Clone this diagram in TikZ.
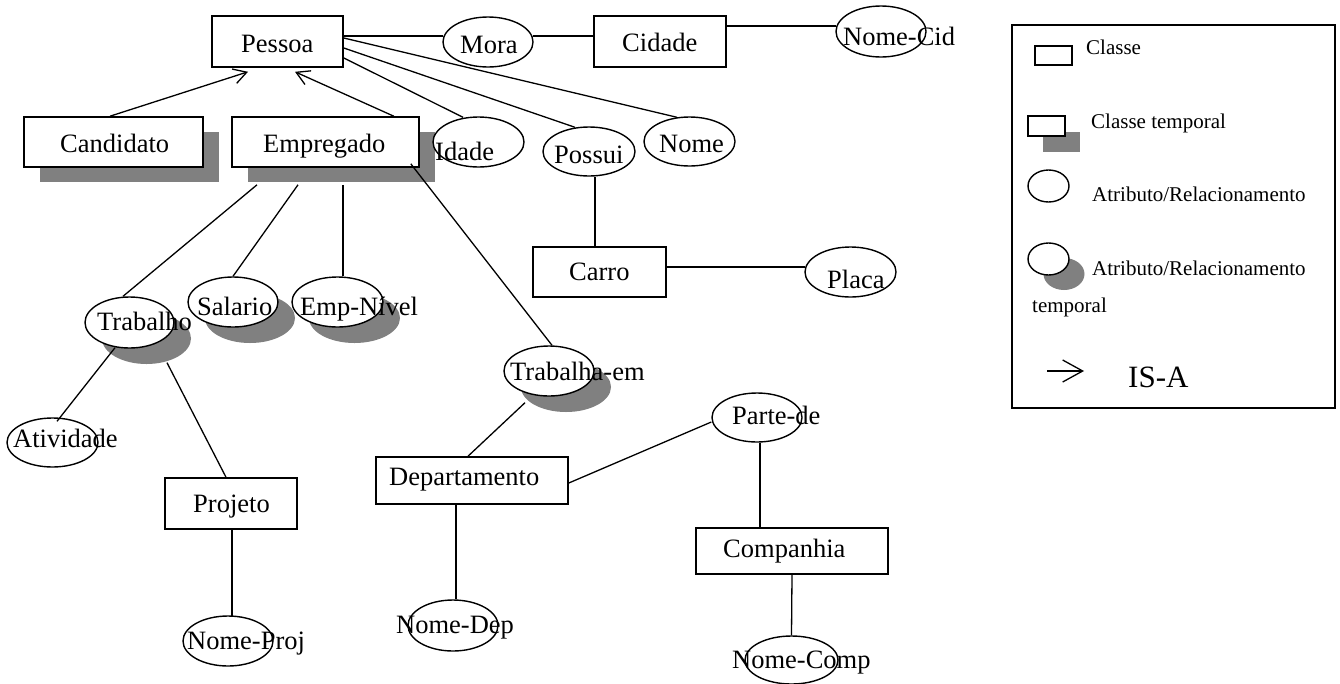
\documentclass[tikz,border=0pt]{standalone}
\usepackage{fontspec}
\setmainfont{Liberation Serif}
\usetikzlibrary{shapes.geometric,shadows,arrows.meta}
\definecolor{shade}{RGB}{128,128,128}
\begin{document}
\begin{tikzpicture}[x=1pt,y=-1pt,
  cls/.style={draw, line width=1.6pt, fill=white, rectangle, inner sep=0pt},
  attr/.style={draw, line width=1.4pt, fill=white, ellipse, inner sep=0pt},
  tcls/.style={cls, general shadow={fill=shade, draw=none, shadow xshift=16pt, shadow yshift=-15pt}},
  tattr/.style={attr, general shadow={fill=shade, draw=none, shadow xshift=17pt, shadow yshift=-16pt}},
  lbl/.style={anchor=base west, inner sep=0pt, font=\fontsize{26.5}{30}\selectfont},
  lgl/.style={anchor=base west, inner sep=0pt, font=\fontsize{21}{25}\selectfont},
  link/.style={line width=1.3pt},
  isa/.style={line width=1.3pt, -{Straight Barb[length=13pt,width=15pt]}}]
\useasboundingbox (0,0) rectangle (1340,683);

% ---------- classes ----------
\node[cls, minimum width=131pt, minimum height=51pt] (pessoa) at (277.5,41.5) {};
\node[cls, minimum width=132pt, minimum height=51pt] (cidade) at (660,41.5) {};
\node[tcls, minimum width=179pt, minimum height=50pt] (cand) at (113.5,142) {};
\node[tcls, minimum width=187pt, minimum height=50pt] (empr) at (325.5,142) {};
\node[cls, minimum width=133pt, minimum height=50pt] (carro) at (599.5,272) {};
\node[cls, minimum width=132pt, minimum height=51pt] (projeto) at (231,503.5) {};
\node[cls, minimum width=192pt, minimum height=47pt] (depto) at (472,480.5) {};
\node[cls, minimum width=192pt, minimum height=46pt] (comp) at (792,551) {};

% ---------- attributes / relationships ----------
\node[attr, minimum width=90pt, minimum height=50pt] (mora) at (488,42) {};
\node[attr, minimum width=90pt, minimum height=51pt] (nomecid) at (881,31.5) {};
\node[attr, minimum width=91pt, minimum height=50pt] (idade) at (478.5,142) {};
\node[attr, minimum width=92pt, minimum height=49pt] (possui) at (589,151.5) {};
\node[attr, minimum width=91pt, minimum height=49pt] (nome) at (689.5,141.5) {};
\node[attr, minimum width=91pt, minimum height=50pt] (placa) at (850.5,272) {};
\node[tattr, minimum width=89pt, minimum height=51pt] (trabalho) at (129.5,322.5) {};
\node[tattr, minimum width=90pt, minimum height=50pt] (salario) at (233,302) {};
\node[tattr, minimum width=91pt, minimum height=50pt] (empnivel) at (337.5,302) {};
\node[attr, minimum width=91pt, minimum height=49pt] (atividade) at (52.5,442.5) {};
\node[tattr, minimum width=90pt, minimum height=50pt] (trabem) at (549,371) {};
\node[attr, minimum width=90pt, minimum height=49pt] (partede) at (757,417.5) {};
\node[attr, minimum width=90pt, minimum height=50pt] (nomeproj) at (228,641) {};
\node[attr, minimum width=90pt, minimum height=51pt] (nomedep) at (453,625.5) {};
\node[attr, minimum width=93pt, minimum height=48pt] (nomecomp) at (791.5,660) {};

% ---------- connectors ----------
\draw[isa] ([shift={(-3.5,0)}]cand.north) -- ([shift={(-29.5,4)}]pessoa.south);
\draw[isa] ([shift={(-26,0)}]empr.north east) -- ([shift={(17.5,4)}]pessoa.south);
\draw[link] ([shift={(0,-5.5)}]pessoa.east) -- ([shift={(1,-6)}]mora.west);
\draw[link] ([shift={(-1,-6)}]mora.east) -- ([shift={(0,-5.5)}]cidade.west);
\draw[link] ([shift={(0,-15.5)}]cidade.east) -- ([shift={(1,-5.5)}]nomecid.west);
\draw[link] ([shift={(0,-3.5)}]pessoa.east) -- ([shift={(-12.5,1)}]nome.north);
\draw[link] ([shift={(0,6.5)}]pessoa.east) -- ([shift={(-14,1)}]possui.north);
\draw[link] ([shift={(0,16.5)}]pessoa.east) -- ([shift={(-15.5,1)}]idade.north);
\draw[link] ([shift={(6,0)}]possui.south) -- ([shift={(-4.5,0)}]carro.north);
\draw[link] ([shift={(0,-5)}]carro.east) -- ([shift={(1,-5)}]placa.west);
\draw[link] ([shift={(-68.5,17)}]empr.south) -- ([shift={(-6.5,0)}]trabalho.north);
\draw[link] ([shift={(-27.5,17)}]empr.south) -- (salario.north);
\draw[link] ([shift={(17.5,17)}]empr.south) -- ([shift={(5.5,0)}]empnivel.north);
\draw[link] ([shift={(-9,-4)}]empr.south east) -- ([shift={(3,0)}]trabem.north);
\draw[link] ([shift={(-14.5,-1)}]trabalho.south) -- ([shift={(4.5,4)}]atividade.north);
\draw[link] ([shift={(37.5,14)}]trabalho.south) -- ([shift={(-5,0)}]projeto.north);
\draw[link] ([shift={(1,0)}]projeto.south) -- ([shift={(4,0.5)}]nomeproj.north);
\draw[link] ([shift={(-24,6)}]trabem.south) -- ([shift={(-4,0)}]depto.north);
\draw[link] ([shift={(0,2.5)}]depto.east) -- ([shift={(0,4.5)}]partede.west);
\draw[link] ([shift={(-16,0)}]depto.south) -- ([shift={(3,0)}]nomedep.north);
\draw[link] ([shift={(3,0)}]partede.south) -- ([shift={(-32,0)}]comp.north);
\draw[link] (comp.south) -- (nomecomp.north);

% ---------- texts ----------
\node[lbl] (t-pessoa) at (241,52) {Pessoa};
\node[lbl] (t-cidade) at (622,51) {Cidade};
\node[lbl] (t-cand) at (60,152) {Candidato};
\node[lbl] (t-empr) at (263,152) {Empregado};
\node[lbl] (t-carro) at (569,280) {Carro};
\node[lbl] (t-projeto) at (193,512) {Projeto};
\node[lbl] (t-depto) at (389,485) {Departamento};
\node[lbl] (t-comp) at (723,557) {Companhia};
\node[lbl] (t-mora) at (460,53) {Mora};
\node[lbl] (t-nomecid) at (843,45) {Nome-Cid};
\node[lbl] (t-idade) at (435,160) {Idade};
\node[lbl] (t-possui) at (554,163) {Possui};
\node[lbl] (t-nome) at (659,152) {Nome};
\node[lbl] (t-placa) at (827,288) {Placa};
\node[lbl] (t-trabalho) at (97,330) {Trabalho};
\node[lbl] (t-salario) at (197,315) {Salario};
\node[lbl] (t-empnivel) at (300,315) {Emp-Nível};
\node[lbl] (t-atividade) at (13,447) {Atividade};
\node[lbl] (t-trabem) at (510,380) {Trabalha-em};
\node[lbl] (t-partede) at (732,424) {Parte-de};
\node[lbl] (t-nomeproj) at (187,649) {Nome-Proj};
\node[lbl] (t-nomedep) at (396,633) {Nome-Dep};
\node[lbl] (t-nomecomp) at (732,668) {Nome-Comp};

% ---------- legend ----------
\node[draw, line width=1.5pt, minimum width=323pt, minimum height=383pt, inner sep=0pt] (legend) at (1173.5,216.5) {};
\node[cls, line width=1.4pt, minimum width=37pt, minimum height=19pt] (lg-cls) at (1053.5,55.5) {};
\node[cls, line width=1.4pt, minimum width=37pt, minimum height=20pt,
  general shadow={fill=shade, draw=none, shadow xshift=15pt, shadow yshift=-16pt}] (lg-tcls) at (1046.5,126) {};
\node[attr, minimum width=41pt, minimum height=32pt] (lg-attr) at (1048.5,186) {};
\node[attr, minimum width=41pt, minimum height=32pt,
  general shadow={fill=shade, draw=none, shadow xshift=15.5pt, shadow yshift=-15pt}] (lg-tattr) at (1048.5,259) {};
\coordinate (lg-a0) at (1047,371);
\coordinate (lg-a1) at (1084,371);
\draw[line width=1.3pt, -{Straight Barb[length=20pt,width=22pt]}] (lg-a0) -- (lg-a1);
\node[lgl] (lt-cls) at (1086,54) {Classe};
\node[lgl] (lt-tcls) at (1091,128) {Classe temporal};
\node[lgl] (lt-attr) at (1092,201) {Atributo/Relacionamento};
\node[lgl] (lt-tattr) at (1092,275) {Atributo/Relacionamento};
\node[lgl] (lt-temp) at (1032,312) {temporal};
\node[anchor=base west, inner sep=0pt, font=\fontsize{31}{35}\selectfont] (lt-isa) at (1128,387) {IS-A};
\end{tikzpicture}
\end{document}
